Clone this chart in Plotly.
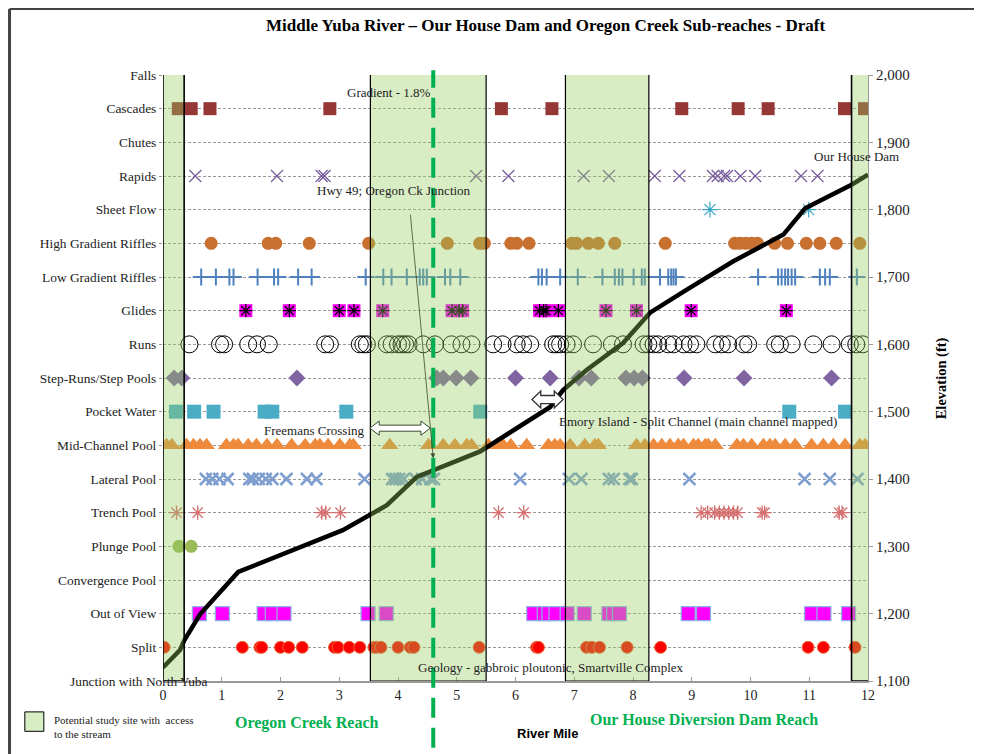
import plotly.graph_objects as go

# ---------------- data ----------------
categories = ["Junction with North Yuba", "Split", "Out of View", "Convergence Pool", "Plunge Pool",
              "Trench Pool", "Lateral Pool", "Mid-Channel Pool", "Pocket Water", "Step-Runs/Step Pools",
              "Runs", "Glides", "Low Gradient Riffles", "High Gradient Riffles", "Sheet Flow", "Rapids",
              "Chutes", "Cascades", "Falls"]

falls = []
cascades = [0.26, 0.48, 0.80, 2.84, 5.76, 6.62, 8.83, 9.79, 10.30, 11.60, 11.94]
chutes = []
rapids = [0.55, 1.94, 2.70, 2.75, 5.33, 5.88, 7.16, 7.59, 8.37, 8.79, 9.36, 9.44, 9.55, 9.60, 9.83, 10.08,
          10.86, 11.14]
sheet_flow = [9.31, 10.99]
high_gradient_riffles = [0.82, 1.79, 1.92, 2.49, 3.50, 4.84, 5.39, 5.47, 5.92, 6.02, 6.23, 6.96, 7.04, 7.24,
                         7.41, 7.69, 8.55, 9.73, 9.82, 9.92, 10.02, 10.12, 10.41, 10.63, 10.95, 11.18,
                         11.46, 11.86]
low_gradient_riffles = [0.65, 0.90, 1.13, 1.20, 1.61, 1.89, 1.96, 2.30, 2.53, 3.45, 3.75, 3.89, 4.15, 4.37,
                        4.43, 4.49, 4.80, 4.89, 5.06, 6.39, 6.45, 6.53, 6.76, 7.06, 7.48, 7.69, 7.76, 7.82,
                        8.01, 8.15, 8.20, 8.46, 8.60, 8.65, 8.69, 8.73, 10.13, 10.47, 10.53, 10.59, 10.64,
                        10.70, 10.76, 11.18, 11.27, 11.35, 11.81]
glides = [1.41, 2.15, 3.00, 3.25, 3.74, 4.92, 5.04, 5.10, 6.41, 6.48, 6.52, 6.73, 7.54, 8.06, 8.99, 10.61]
runs = [0.45, 0.97, 1.04, 1.45, 1.60, 1.80, 2.76, 2.84, 3.35, 3.41, 3.47, 3.81, 3.89, 4.00, 4.06, 4.12, 4.18,
        4.43, 4.63, 4.91, 5.08, 5.25, 5.62, 5.78, 6.02, 6.13, 6.25, 6.64, 6.70, 6.76, 6.87, 6.98, 7.32, 7.64,
        7.83, 8.18, 8.26, 8.35, 8.43, 8.60, 8.69, 8.86, 8.97, 9.08, 9.40, 9.51, 9.62, 9.88, 9.96, 10.42,
        10.50, 10.70, 11.07, 11.38, 11.69, 11.80, 11.91]
step_runs_pools = [0.19, 0.32, 2.28, 4.66, 4.77, 4.99, 5.24, 6.00, 6.59, 7.08, 7.29, 7.88, 8.02, 8.16, 8.87,
                   9.89, 11.38]
pocket_water = [0.22, 0.53, 0.86, 1.73, 1.86, 3.12, 5.40, 10.66, 11.61]
mid_channel_pool = [0.06, 0.15, 0.40, 0.52, 0.63, 0.74, 1.08, 1.20, 1.28, 1.45, 1.59, 1.77, 1.94, 2.19, 2.42,
                    2.59, 2.67, 2.81, 3.01, 3.18, 3.24, 3.86, 4.52, 4.77, 4.97, 5.17, 5.25, 5.54, 5.68,
                    5.79, 5.92, 6.19, 6.56, 6.67, 6.76, 6.93, 7.18, 7.35, 7.41, 8.06, 8.20, 8.35, 8.49,
                    8.63, 8.77, 8.86, 9.03, 9.11, 9.23, 9.28, 9.40, 9.77, 9.88, 10.02, 10.22, 10.33,
                    10.42, 10.59, 10.76, 11.04, 11.24, 11.41, 11.61, 11.86, 11.95]
lateral_pool = [0.73, 0.84, 0.96, 1.10, 1.47, 1.53, 1.63, 1.75, 1.86, 2.10, 2.45, 2.61, 3.43, 3.90, 3.96,
                4.02, 4.10, 4.30, 4.41, 4.55, 4.61, 6.08, 6.91, 7.12, 7.59, 7.67, 7.94, 7.98, 8.96, 10.92,
                11.35, 11.82]
trench_pool = [0.23, 0.59, 2.70, 2.77, 3.02, 5.71, 6.14, 9.16, 9.27, 9.39, 9.47, 9.55, 9.63, 9.71, 9.78,
               10.20, 10.24, 11.51, 11.56]
plunge_pool = [0.27, 0.48]
convergence_pool = []
out_of_view = [0.62, 1.01, 1.72, 1.86, 2.06, 3.49, 3.80, 6.31, 6.49, 6.57, 6.69, 6.88, 7.17, 7.59, 7.67,
               7.77, 8.94, 9.20, 11.04, 11.25, 11.67]
split = [0.02, 1.35, 1.65, 1.68, 2.00, 2.14, 2.37, 2.92, 2.98, 3.17, 3.35, 3.59, 3.63, 3.71, 4.00, 4.21,
         4.27, 5.38, 6.36, 6.39, 7.21, 7.30, 7.43, 7.90, 8.47, 10.98, 11.24, 11.78]

profile_mile = [0, 0.29, 0.36, 0.63, 1.28, 3.06, 3.81, 4.32, 5.40, 6.59, 6.81, 7.21, 7.83, 8.29, 8.91, 9.70,
                10.56, 10.93, 11.72, 12.0]
profile_elev = [1120, 1146, 1160, 1199, 1262, 1324, 1361, 1403, 1441, 1507, 1532, 1562, 1602, 1647, 1681,
                1723, 1763, 1802, 1837, 1852]

study_sites = [(0.0, 0.36), (3.53, 5.50), (6.85, 8.27), (11.72, 12.03)]
divide_mile = 4.6

elev_ticks = [1100, 1200, 1300, 1400, 1500, 1600, 1700, 1800, 1900, 2000]

SERIF = "Liberation Serif, Times New Roman, serif"
GREEN = "#00B050"

fig = go.Figure()

def row(xs, cat, symbol, color, size, lw=1, lc=None):
    idx = categories.index(cat)
    fig.add_trace(go.Scatter(
        x=xs, y=[idx] * len(xs), mode="markers", name=cat, showlegend=False,
        marker=dict(symbol=symbol, color=color, size=size,
                    line=dict(width=lw, color=lc if lc else color))))

row(cascades, "Cascades", "square", "#953735", 13, 0)
row(rapids, "Rapids", "x-thin-open", "#76599c", 12, 1.2)
row(sheet_flow, "Sheet Flow", "asterisk-open", "#3aa5c4", 13, 1.2)
row(high_gradient_riffles, "High Gradient Riffles", "circle", "#c8702f", 13, 0)
row(low_gradient_riffles, "Low Gradient Riffles", "cross-thin-open", "#4f81bd", 12, 2)
row(glides, "Glides", "square", "#ff00ff", 13, 0)
row(glides, "Glides", "asterisk-open", "#000000", 11, 1.2)
row(runs, "Runs", "circle-open", "#000000", 17, 1)
row(step_runs_pools, "Step-Runs/Step Pools", "diamond", "#8064a2", 13, 0)
row(pocket_water, "Pocket Water", "square", "#4bacc6", 14, 0)
row(mid_channel_pool, "Mid-Channel Pool", "triangle-up", "#ee8a3c", 15, 0)
row(lateral_pool, "Lateral Pool", "x-thin-open", "#7f9fd0", 12, 2.5)
row(trench_pool, "Trench Pool", "asterisk-open", "#d46f6f", 12, 1.3)
row(plunge_pool, "Plunge Pool", "circle", "#9bbb59", 13, 0)
row(out_of_view, "Out of View", "square", "#ff00ff", 14, 1.2, "#8db3e2")
row(split, "Split", "circle", "#ff0000", 12, 1, "#ea6a3c")

fig.add_trace(go.Scatter(x=profile_mile, y=profile_elev, yaxis="y2", mode="lines",
                         line=dict(color="black", width=4.5), showlegend=False))

shapes = []
for i, (x0, x1) in enumerate(study_sites):
    shapes.append(dict(type="rect", xref="x", yref="y", x0=x0, x1=x1, y0=0, y1=18.05, layer="above",
                       fillcolor="rgba(150,205,95,0.36)",
                       line=dict(color="black", width=1.6 if i in (0, 3) else 1.2)))

# vertical reach divider
shapes.append(dict(type="line", xref="x", yref="paper", x0=divide_mile, x1=divide_mile, y0=-0.11, y1=1.008,
                   layer="above", line=dict(color=GREEN, width=4, dash="20px,10px")))

def dbl_arrow(xa, xb, yc, hh, sh, hl):
    return ("M {a},{y} L {a2},{t} L {a2},{st} L {b2},{st} L {b2},{t} L {b},{y} L {b2},{bt} L {b2},{sb} "
            "L {a2},{sb} L {a2},{bt} Z").format(a=xa, b=xb, a2=xa + hl, b2=xb - hl, y=yc,
                                               t=yc + hh, bt=yc - hh, st=yc + sh, sb=yc - sh)

shapes.append(dict(type="path", xref="x", yref="y", layer="above",
                   path=dbl_arrow(3.52, 4.55, 7.51, 0.21, 0.09, 0.16),
                   fillcolor="white", line=dict(color="#3b4a30", width=1)))
shapes.append(dict(type="path", xref="x", yref="y", layer="above",
                   path=dbl_arrow(6.28, 6.81, 8.36, 0.25, 0.12, 0.15),
                   fillcolor="white", line=dict(color="#333333", width=1.3)))

# legend swatch and frame
shapes.append(dict(type="rect", xref="paper", yref="paper", x0=-0.196, x1=-0.169, y0=-0.051, y1=-0.083,
                   fillcolor="#d7eec4", line=dict(color="black", width=1)))
shapes.append(dict(type="line", xref="paper", yref="paper", x0=-0.2177, x1=-0.2177, y0=1.109, y1=-0.13,
                   line=dict(color="#444", width=3)))
shapes.append(dict(type="line", xref="paper", yref="paper", x0=-0.2177, x1=1.2, y0=1.109, y1=1.109,
                   line=dict(color="#444", width=2)))

ann = []
def txt(text, x, y, xref="x", yref="y", size=13, xanchor="center", color="#222", family=SERIF, **kw):
    ann.append(dict(text=text, x=x, y=y, xref=xref, yref=yref, showarrow=False, xanchor=xanchor,
                    yanchor="middle", font=dict(family=family, size=size, color=color), **kw))

txt("<b>Middle Yuba River – Our House Dam and Oregon Creek Sub-reaches - Draft</b>", 0.543, 1.081,
    "paper", "paper", 17, color="black")
txt("Gradient - 1.8%", 3.85, 17.49)
txt("Hwy 49; Oregon Ck Junction", 3.93, 14.58)
txt("Our House Dam", 11.81, 15.58)
txt("Freemans Crossing", 3.47, 7.45, xanchor="right")
txt("Emory Island - Split Channel (main channel mapped)", 6.71, 7.72, xanchor="left")
txt("Geology - gabbroic ploutonic, Smartville Complex", 4.31, 0.39, xanchor="left")
txt("Junction with North Yuba", -0.034, 0.0, "paper", "y", 13.4)
txt("<b>Oregon Creek Reach</b>", 0.203, -0.069, "paper", "paper", 16, color=GREEN)
txt("<b>Our House Diversion Dam Reach</b>", 0.767, -0.063, "paper", "paper", 16, color=GREEN)
txt("<b>River Mile</b>", 0.545, -0.086, "paper", "paper", 13, color="black",
    family="Liberation Sans, Arial, sans-serif")
txt("<b>Elevation (ft)</b>", 1.104, 0.5, "paper", "paper", 14.5, color="black", textangle=-90)
ann.append(dict(text="Potential study site with  access<br>to the stream", x=-0.157, y=-0.076,
                xref="paper", yref="paper", showarrow=False, xanchor="left", yanchor="middle", align="left",
                font=dict(family=SERIF, size=11, color="#222")))
ann.append(dict(text="", x=4.6, y=6.62, xref="x", yref="y", showarrow=True, ax=-23, ay=-245,
                arrowhead=2, arrowsize=1.2, arrowwidth=0.8, arrowcolor="#3b4a30"))

# page body adds 8px offset; compensate so the plot area lands where the reference has it
fig.update_layout(
    width=974, height=746,
    margin=dict(l=155, r=114, t=67, b=73),
    paper_bgcolor="white", plot_bgcolor="white",
    shapes=shapes, annotations=ann,
    xaxis=dict(range=[0, 12], dtick=1, tick0=0, showgrid=False, zeroline=False,
               showline=True, linecolor="#999", linewidth=1.5, ticks="inside", ticklen=4, tickcolor="#999",
               tickfont=dict(family=SERIF, size=14, color="#222")),
    yaxis=dict(range=[0, 18], tickvals=list(range(19)),
               ticktext=[""] + categories[1:], showgrid=True, gridcolor="#999", griddash="3px,2px",
               gridwidth=1, zeroline=False, showline=False, ticks="outside", ticklen=3, tickcolor="#999",
               tickfont=dict(family=SERIF, size=13.4, color="#222")),
    yaxis2=dict(range=[1100, 2000], tickvals=elev_ticks, overlaying="y", side="right", tickformat=",",
                showgrid=False, zeroline=False, showline=True, linecolor="#999", ticks="outside",
                ticklen=4, tickcolor="#999", tickfont=dict(family=SERIF, size=15, color="#222")),
    showlegend=False,
)

fig.write_html("out.html")
